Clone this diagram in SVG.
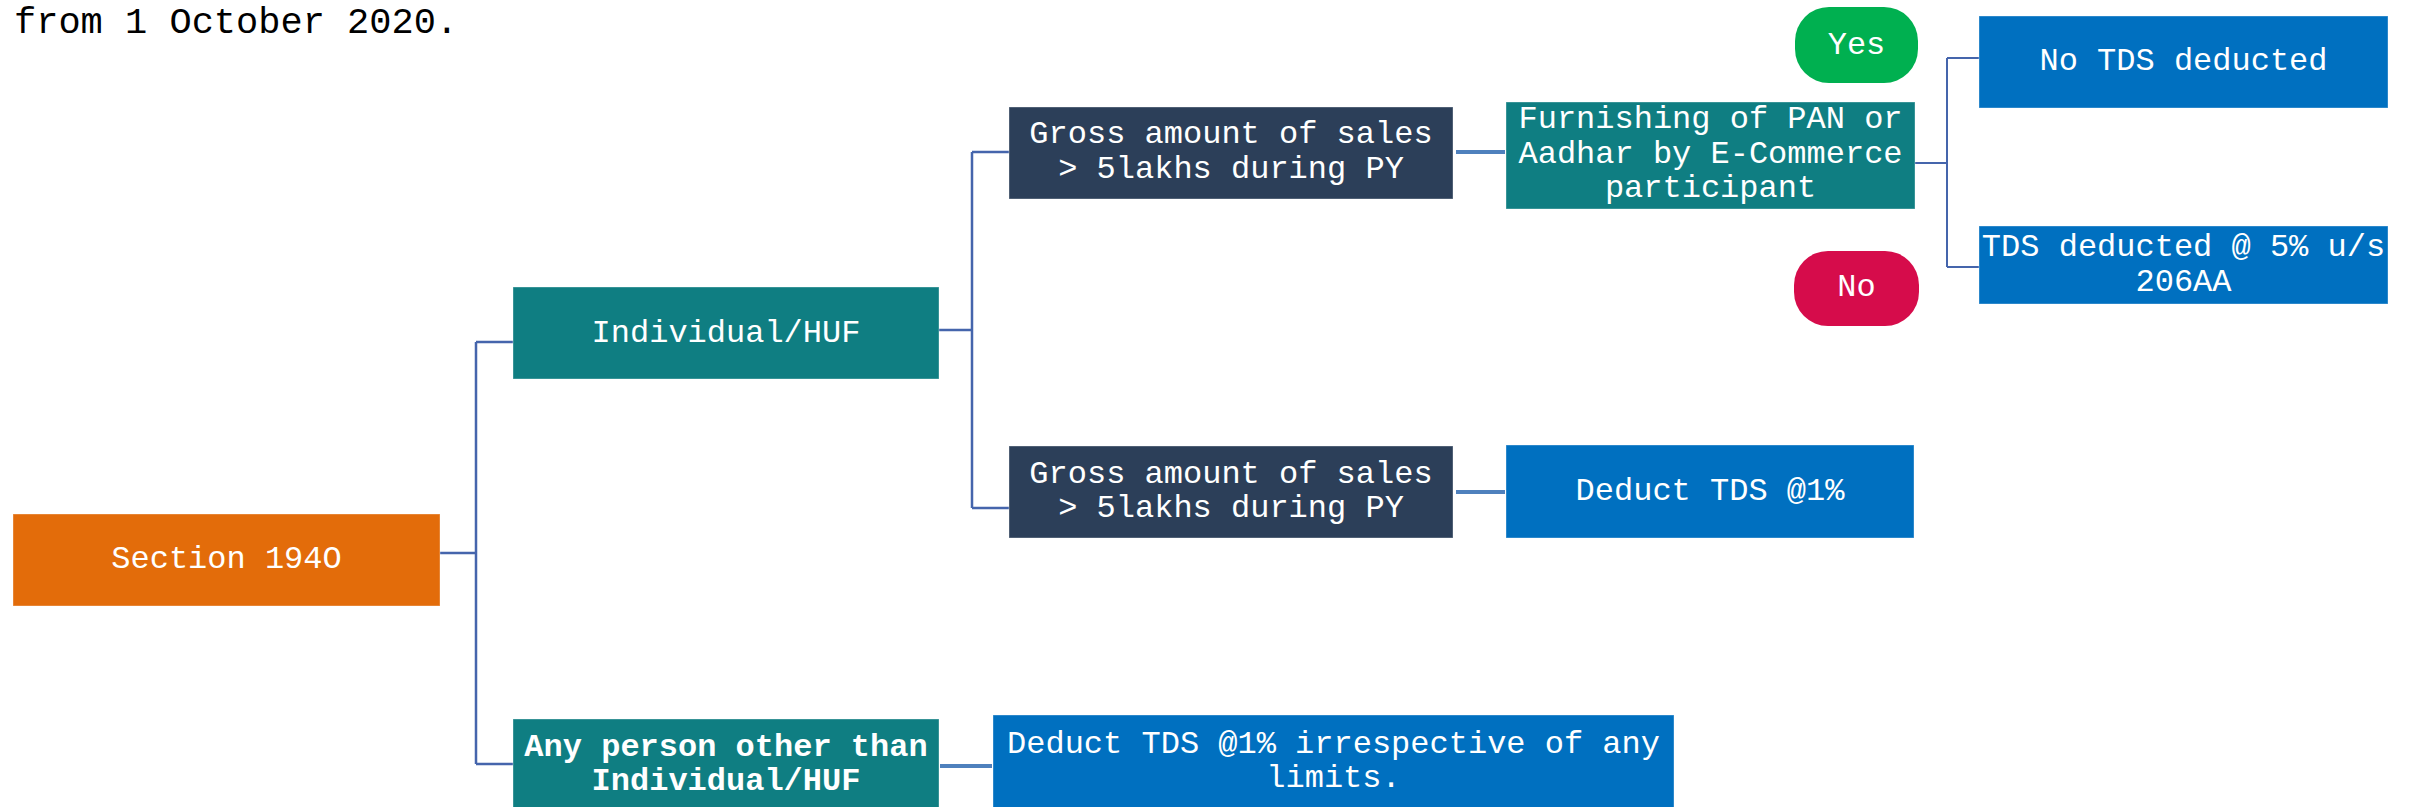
<svg xmlns="http://www.w3.org/2000/svg" width="2412" height="807" viewBox="0 0 2412 807">
<style>
.t{font-family:"Courier New","Nimbus Mono PS","FreeMono","Liberation Mono",monospace;font-size:32px;fill:#ffffff;text-anchor:middle}
.b{font-weight:bold}
.box{stroke:#ffffff;stroke-opacity:0.35;stroke-width:1}
.orange{fill:#E36C0A}
.teal{fill:#0F7E82}
.navy{fill:#2C3F59}
.blue{fill:#0070C0}
.c{fill:none;stroke:#4565AC;stroke-width:2.5}
.ct{fill:none;stroke:#4F81BD;stroke-width:4}
</style>
<rect width="2412" height="807" fill="#ffffff"/>
<text x="14" y="33" style="font-family:'Courier New','Nimbus Mono PS','FreeMono','Liberation Mono',monospace;font-size:37px;fill:#000000">from 1 October 2020.</text>
<g id="connectors">
<path class="c" d="M440 553 H476 M476 342 V764 M476 342 H513 M476 764 H513"/>
<path class="c" d="M939 330 H972 M972 152 V508 M972 152 H1009 M972 508 H1009"/>
<path class="ct" d="M1456 152 H1505"/>
<path class="ct" d="M1456 492 H1505"/>
<path class="ct" d="M940 766 H992"/>
<path class="c" d="M1915 163 H1947 M1947 58 V267 M1947 58 H1979 M1947 267 H1979" style="stroke-width:2"/>
</g>
<g id="section">
<rect class="box orange" x="13" y="514" width="427" height="92"/>
<text class="t" x="226.5" y="568">Section 194O</text>
</g>
<g id="individual">
<rect class="box teal" x="513" y="287" width="426" height="92"/>
<text class="t" x="726" y="342">Individual/HUF</text>
</g>
<g id="anyperson">
<rect class="box teal" x="513" y="719" width="426" height="100"/>
<text class="t b" x="726" y="756">Any person other than</text>
<text class="t b" x="726" y="790">Individual/HUF</text>
</g>
<g id="gross1">
<rect class="box navy" x="1009" y="107" width="444" height="92"/>
<text class="t" x="1231" y="143">Gross amount of sales</text>
<text class="t" x="1231" y="178">&gt; 5lakhs during PY</text>
</g>
<g id="gross2">
<rect class="box navy" x="1009" y="446" width="444" height="92"/>
<text class="t" x="1231" y="483">Gross amount of sales</text>
<text class="t" x="1231" y="517">&gt; 5lakhs during PY</text>
</g>
<g id="furnishing">
<rect class="box teal" x="1506" y="102" width="409" height="107"/>
<text class="t" x="1710.5" y="128">Furnishing of PAN or</text>
<text class="t" x="1710.5" y="163">Aadhar by E-Commerce</text>
<text class="t" x="1710.5" y="197">participant</text>
</g>
<g id="deduct1">
<rect class="box blue" x="1506" y="445" width="408" height="93"/>
<text class="t" x="1710" y="500">Deduct TDS @1%</text>
</g>
<g id="deductany">
<rect class="box blue" x="993" y="715" width="681" height="105"/>
<text class="t" x="1333.5" y="753">Deduct TDS @1% irrespective of any</text>
<text class="t" x="1333.5" y="787">limits.</text>
</g>
<g id="yes">
<rect x="1795" y="7" width="123" height="76" rx="34" ry="34" fill="#00B050"/>
<text class="t" x="1856.5" y="54">Yes</text>
</g>
<g id="no">
<rect x="1794" y="251" width="125" height="75" rx="34" ry="34" fill="#D60C4B"/>
<text class="t" x="1856.5" y="296">No</text>
</g>
<g id="notds">
<rect class="box blue" x="1979" y="16" width="409" height="92"/>
<text class="t" x="2183.5" y="70">No TDS deducted</text>
</g>
<g id="tds5">
<rect class="box blue" x="1979" y="226" width="409" height="78"/>
<text class="t" x="2183.5" y="256">TDS deducted @ 5% u/s</text>
<text class="t" x="2183.5" y="291">206AA</text>
</g>
</svg>
